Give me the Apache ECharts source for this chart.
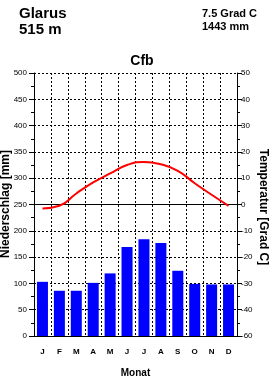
<!DOCTYPE html>
<html>
<head>
<meta charset="utf-8">
<script src="https://cdn.jsdelivr.net/npm/echarts@6/dist/echarts.min.js"></script>
<style>
html,body{margin:0;padding:0;background:#fff;}
#chart{width:270px;height:378px;}
</style>
</head>
<body>
<div id="chart"></div>
<script>
var months = ['J','F','M','A','M','J','J','A','S','O','N','D'];
var precipitation = [103, 86, 86, 101, 119, 169, 184, 177, 124, 99, 98, 98];
var temperature = [-1.5, -0.5, 4.2, 8.4, 11.8, 15.0, 16.2, 15.3, 12.8, 8.1, 3.7, -0.5];
var tempTickLabels = ['-60','-40','-30','-20','-10','0','10','20','30','40','50'];
var stationName = 'Glarus';
var stationElevation = '515 m';
var meanTemp = '7.5 Grad C';
var annualPrecip = '1443 mm';
var climateClass = 'Cfb';
var precipAxisName = 'Niederschlag [mm]';
var tempAxisName = 'Temperatur [Grad C]';

var FONT = '"Liberation Sans", Arial, sans-serif';
var chart = echarts.init(document.getElementById('chart'), null, {renderer: 'canvas'});
var dotted = {color: '#000', type: [2, 2], width: 1};

chart.setOption({
  animation: false,
  backgroundColor: '#fff',
  textStyle: {fontFamily: FONT, color: '#000'},
  title: [
    {text: stationName, left: 14, top: 1, textStyle: {fontFamily: FONT, fontSize: 15, fontWeight: 'bold', color: '#000'}},
    {text: stationElevation, left: 14, top: 17, textStyle: {fontFamily: FONT, fontSize: 15, fontWeight: 'bold', color: '#000'}},
    {text: meanTemp, left: 197, top: 3, textStyle: {fontFamily: FONT, fontSize: 11, fontWeight: 'bold', color: '#000'}},
    {text: annualPrecip, left: 197, top: 16, textStyle: {fontFamily: FONT, fontSize: 11, fontWeight: 'bold', color: '#000'}},
    {text: climateClass, left: 137, textAlign: 'center', top: 49, textStyle: {fontFamily: FONT, fontSize: 14, fontWeight: 'bold', color: '#000'}}
  ],
  graphic: [
    {type: 'text', x: 6, y: 204, rotation: Math.PI / 2,
      style: {text: precipAxisName, fontFamily: FONT, fontSize: 12, fontWeight: 'bold', fill: '#000', textAlign: 'center', textVerticalAlign: 'middle'}},
    {type: 'text', x: 263, y: 207, rotation: -Math.PI / 2,
      style: {text: tempAxisName, fontFamily: FONT, fontSize: 12, fontWeight: 'bold', fill: '#000', textAlign: 'center', textVerticalAlign: 'middle'}}
  ],
  grid: {left: 34, right: 33, top: 73, bottom: 42, containLabel: false, outerBoundsMode: 'none'},
  xAxis: {
    type: 'category',
    data: months,
    boundaryGap: true,
    name: 'Monat',
    nameLocation: 'middle',
    nameGap: 32,
    nameTextStyle: {fontFamily: FONT, fontSize: 10, fontWeight: 'bold', color: '#000'},
    axisLine: {lineStyle: {color: '#000', width: 1}},
    axisTick: {show: false},
    axisLabel: {margin: 12, fontFamily: FONT, fontSize: 8, fontWeight: 'bold', color: '#000', interval: 0},
    splitLine: {show: true, interval: 0, lineStyle: dotted}
  },
  yAxis: [
    {
      type: 'value', min: 0, max: 500, interval: 50, position: 'left',
      axisLine: {show: true, lineStyle: {color: '#000', width: 1}},
      axisTick: {show: true, length: 5, inside: false, lineStyle: {color: '#000'}},
      minorTick: {show: true, splitNumber: 2, length: 3, lineStyle: {color: '#000'}},
      axisLabel: {margin: 7, fontFamily: FONT, fontSize: 8, color: '#000'},
      splitLine: {show: true, lineStyle: dotted}
    },
    {
      type: 'value', min: -50, max: 50, interval: 10, position: 'right',
      axisLine: {show: true, lineStyle: {color: '#000', width: 1}},
      axisTick: {show: true, length: 5, inside: false, lineStyle: {color: '#000'}},
      minorTick: {show: true, splitNumber: 2, length: 3, lineStyle: {color: '#000'}},
      axisLabel: {margin: 4, fontFamily: FONT, fontSize: 8, color: '#000',
        formatter: function (v) { return tempTickLabels[Math.round((v + 50) / 10)]; }},
      splitLine: {show: false}
    }
  ],
  series: [
    {
      type: 'bar', data: precipitation, yAxisIndex: 0, barWidth: 11,
      itemStyle: {color: '#0000ff'}, silent: true, z: 2
    },
    {
      type: 'line', data: temperature, yAxisIndex: 1, smooth: true,
      symbol: 'none', lineStyle: {color: '#ff0000', width: 2}, z: 4, silent: true,
      markLine: {
        silent: true, symbol: ['none', 'none'], label: {show: false},
        lineStyle: {color: '#000', type: 'solid', width: 1},
        data: [{yAxis: 0}], z: 3
      }
    }
  ]
});
</script>
</body>
</html>
